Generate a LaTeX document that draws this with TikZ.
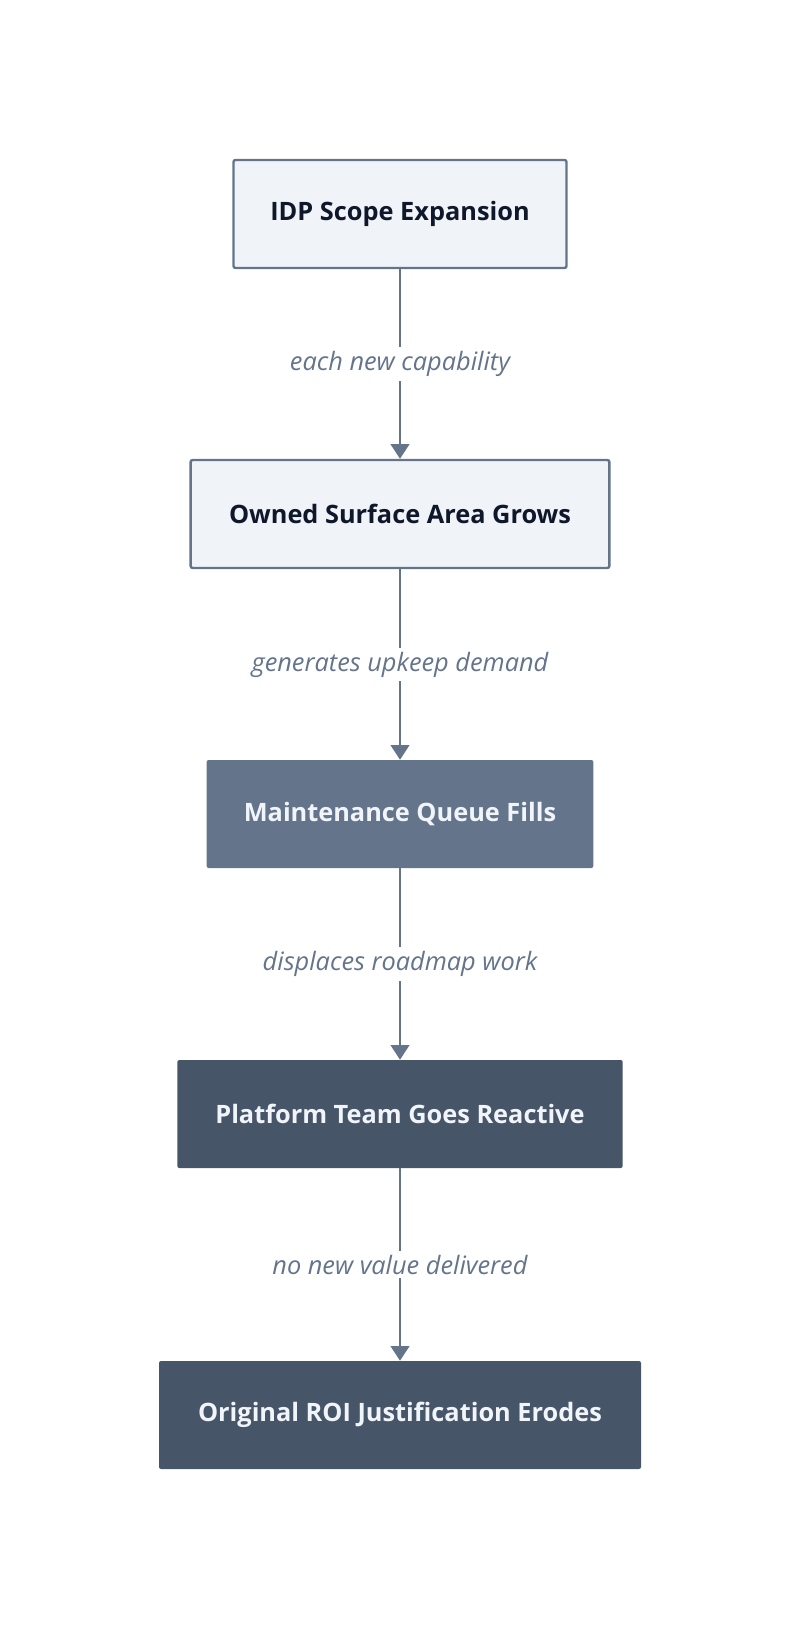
\documentclass[tikz,border=0pt]{standalone}
\usepackage{fontspec}
\setmainfont{Open Sans}
\usetikzlibrary{arrows.meta}
\definecolor{slate}{HTML}{64748B}
\definecolor{slatedark}{HTML}{475569}
\definecolor{lightfill}{HTML}{F0F3F8}
\definecolor{navy}{HTML}{0F172A}
\definecolor{offwhite}{HTML}{F1F5F9}
\tikzset{
  box/.style={rectangle, rounded corners=1.5pt, minimum height=81pt, align=center,
    font=\fontsize{19pt}{23pt}\selectfont\bfseries},
  lightbox/.style={box, draw=slate, line width=1.8pt, fill=lightfill, text=navy},
  midbox/.style={box, fill=slate, text=offwhite},
  darkbox/.style={box, fill=slatedark, text=offwhite},
  conn/.style={draw=slate, line width=1.5pt, -{Triangle[width=14pt,length=11pt]}},
  lbl/.style={fill=white, text=slate, inner sep=3pt, font=\fontsize{19pt}{23pt}\selectfont\itshape}
}
\begin{document}
\begin{tikzpicture}[x=0.75pt,y=-0.75pt]
\useasboundingbox (0,0) rectangle (800,1630);
\node[lightbox, minimum width=249.75pt] (b1) at (400,214) {IDP Scope Expansion};
\node[lightbox, minimum width=314pt] (b2) at (400,514) {Owned Surface Area Grows};
\node[midbox, minimum width=290pt] (b3) at (400,814) {Maintenance Queue Fills};
\node[darkbox, minimum width=334pt] (b4) at (400,1114) {Platform Team Goes Reactive};
\node[darkbox, minimum width=361.5pt] (b5) at (400,1415) {Original ROI Justification Erodes};
\draw[conn] (b1) -- node[lbl] {each new capability} (b2);
\draw[conn] (b2) -- node[lbl] {generates upkeep demand} (b3);
\draw[conn] (b3) -- node[lbl] {displaces roadmap work} (b4);
\draw[conn] (b4) -- node[lbl] {no new value delivered} (b5);
\end{tikzpicture}
\end{document}
